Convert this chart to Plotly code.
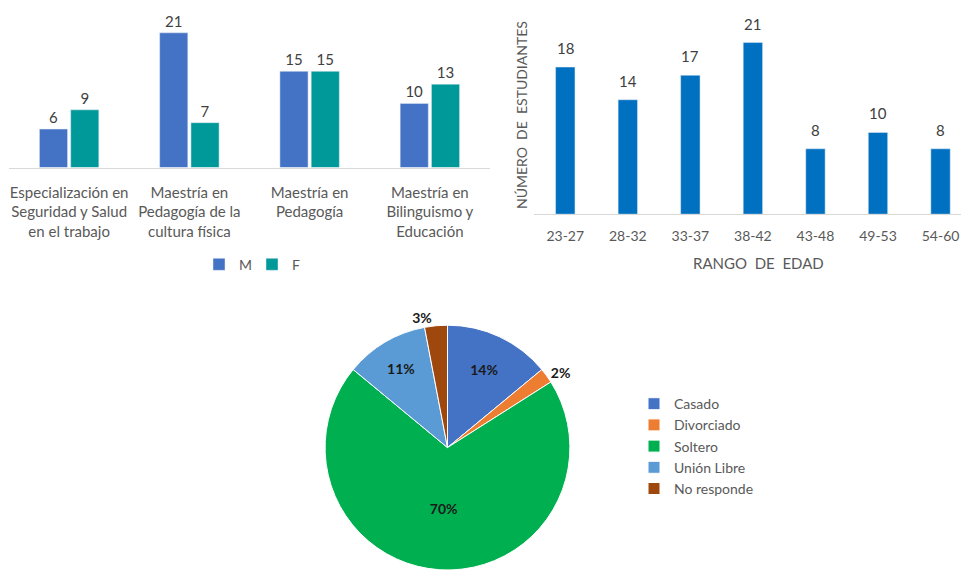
import plotly.graph_objects as go

# ---- data ----
programas = ["Especialización en<br>Seguridad y Salud<br>en el trabajo",
             "Maestría en<br>Pedagogía de la<br>cultura física",
             "Maestría en<br>Pedagogía",
             "Maestría en<br>Bilinguismo y<br>Educación"]
masculino = [6, 21, 15, 10]
femenino = [9, 7, 15, 13]

rangos = ["23-27", "28-32", "33-37", "38-42", "43-48", "49-53", "54-60"]
estudiantes = [18, 14, 17, 21, 8, 10, 8]

estado = ["Casado", "Divorciado", "Soltero", "Unión Libre", "No responde"]
porcentaje = [14, 2, 70, 11, 3]

# page body has an 8px margin: figure drawn at (8, 8)
OFF = 8
W, H = 969 - 2 * OFF, 583 - 2 * OFF
FONT = "Lato"
GREY = "#595959"
LBL = "#404040"

def fx(px):
    return min(max((px - OFF) / W, 0), 1)

def fy(py):
    return min(max(1 - (py - OFF) / H, 0), 1)

fig = go.Figure()

fig.add_trace(go.Bar(x=programas, y=masculino, name="M", marker_color="#4472C4",
                     text=masculino, textposition="outside", cliponaxis=False,
                     textfont=dict(size=15, color=LBL),
                     xaxis="x", yaxis="y", legend="legend"))
fig.add_trace(go.Bar(x=programas, y=femenino, name="F", marker_color="#009999",
                     text=femenino, textposition="outside", cliponaxis=False,
                     textfont=dict(size=15, color=LBL),
                     xaxis="x", yaxis="y", legend="legend"))

fig.add_trace(go.Bar(x=rangos, y=estudiantes, marker_color="#0070C0", width=0.31,
                     showlegend=False, xaxis="x2", yaxis="y2"))

fig.add_trace(go.Pie(labels=estado, values=porcentaje, sort=False, direction="clockwise",
                     rotation=0,
                     marker=dict(colors=["#4472C4", "#ED7D31", "#00B050", "#5B9BD5", "#9E480E"],
                                 line=dict(color="white", width=1)),
                     texttemplate="<b>%{percent:.0%}</b>",
                     textposition=["inside", "outside", "inside", "inside", "outside"],
                     insidetextorientation="horizontal",
                     textfont=dict(size=14, color="#1a1a1a", family=FONT),
                     domain=dict(x=[fx(290), fx(605)], y=[fy(575), fy(328)]),
                     legend="legend2", hoverinfo="label+percent"))

annotations = [
    dict(text="NÚMERO  DE  ESTUDIANTES", textangle=-90, x=fx(521), y=fy(116),
         xanchor="center", yanchor="middle",
         xref="paper", yref="paper", showarrow=False, font=dict(size=14, color=GREY)),
    dict(text="RANGO  DE  EDAD", x=fx(758), y=fy(265), xanchor="center", yanchor="middle",
         xref="paper", yref="paper", showarrow=False, font=dict(size=15, color=GREY)),
]
# value labels above the age-range bars
for r, v in zip(rangos, estudiantes):
    annotations.append(dict(text=str(v), x=r, y=v, xref="x2", yref="y2",
                            xanchor="center", yanchor="bottom", yshift=8,
                            showarrow=False, font=dict(size=15, color=LBL)))

fig.update_layout(
    width=W, height=H,
    margin=dict(l=0, r=0, t=0, b=0),
    paper_bgcolor="white", plot_bgcolor="white",
    font=dict(family=FONT, color=GREY, size=14),
    barmode="group", bargap=0.48, bargroupgap=0.1,
    xaxis=dict(domain=[fx(9), fx(490)], showline=True, linecolor="#D9D9D9",
               ticks="", tickfont=dict(size=15, color=GREY), showgrid=False,
               ticklabelstandoff=11, automargin=False),
    yaxis=dict(domain=[fy(169), 1], range=[0, 26.1 - OFF / 6.48], visible=False),
    xaxis2=dict(domain=[fx(534), 1], range=[-0.5, 6.5 - (980 - 969) / 63.7], showline=True,
                linecolor="#D9D9D9", ticks="", tickfont=dict(size=14, color=GREY),
                showgrid=False, anchor="y2", automargin=False, ticklabelstandoff=9),
    yaxis2=dict(domain=[fy(216), 1], range=[0, 26.2 - OFF / 8.24], visible=False, anchor="x2"),
    legend=dict(orientation="h", x=fx(252), xanchor="center", y=fy(267), yanchor="middle",
                font=dict(size=14, color=GREY), itemwidth=30, entrywidth=8),
    legend2=dict(x=fx(634), xanchor="left", y=fy(450), yanchor="middle",
                 font=dict(size=14, color=GREY)),
    annotations=annotations,
)

fig.write_html("out.html")
